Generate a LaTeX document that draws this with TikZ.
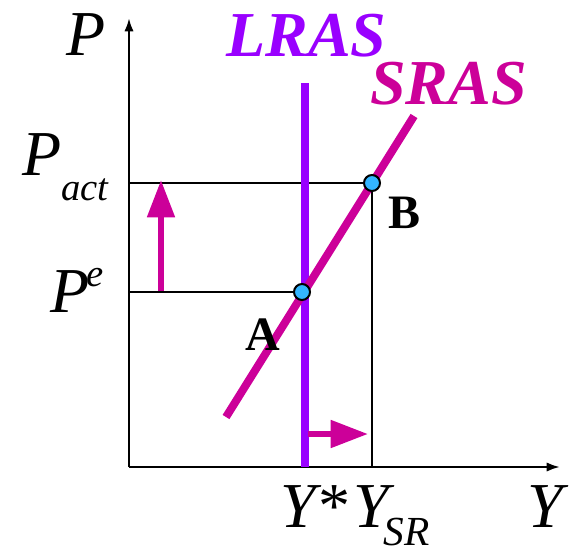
\documentclass[tikz,border=0pt]{standalone}
\usepackage{fontspec}
\setmainfont{Liberation Serif}
\usetikzlibrary{arrows.meta}
\definecolor{lrascol}{RGB}{153,0,255}
\definecolor{srascol}{RGB}{204,0,153}
\definecolor{dotcol}{RGB}{51,181,255}
\begin{document}
\begin{tikzpicture}[x=0.75pt,y=-0.75pt,
  lbl/.style={inner sep=0pt, anchor=base west, font=\fontsize{48}{48}\selectfont\itshape},
  curvelbl/.style={inner sep=0pt, anchor=base west, font=\fontsize{48}{48}\selectfont\bfseries\itshape},
  ptlbl/.style={inner sep=0pt, anchor=base west, font=\fontsize{36}{36}\selectfont\bfseries},
  dot/.style={circle, draw=black, line width=1.5pt, fill=dotcol, minimum size=12pt, inner sep=0pt},
  guide/.style={line width=1.5pt},
  axis/.style={line width=1.8pt, -{Latex[length=10pt,width=7pt]}},
  lrasline/.style={lrascol, line width=6pt},
  srasline/.style={srascol, line width=6pt},
  shiftarrow/.style={srascol, line width=4.5pt, -{Triangle[length=28pt,width=20pt]}}]
\useasboundingbox (0,0) rectangle (570,550);
% coordinates
\coordinate (O) at (129,467);
\coordinate (ytop) at (129,18);
\coordinate (xend) at (560,467);
\coordinate (pact) at (129,183);
\coordinate (pe) at (129,292);
\coordinate (ysr) at (372,467);
\coordinate (lrasB) at (305,467);
\coordinate (lrasT) at (305,83);
\coordinate (srasB) at (226,417);
\coordinate (srasT) at (414,116);
\coordinate (upS) at (161,291);
\coordinate (upT) at (161,180);
\coordinate (rS) at (308,434);
\coordinate (rT) at (368,434);
\coordinate (Apos) at (302,292);
\coordinate (Bpos) at (372,183);
% axes
\draw[axis] (O) -- (ytop);
\draw[axis] (O) -- (xend);
% guides
\draw[guide] (pact) -- (Bpos) -- (ysr);
\draw[guide] (pe) -- (Apos);
% curves
\draw[lrasline] (lrasB) -- (lrasT);
\draw[srasline] (srasB) -- (srasT);
% shift arrows
\draw[shiftarrow] (upS) -- (upT);
\draw[shiftarrow] (rS) -- (rT);
% points
\node[dot] (A) at (Apos) {};
\node[dot] (B) at (Bpos) {};
% labels
\node[lbl] (Plab) at (66,55) {P};
\node[lbl] (Pactlab) at (22,175) {P\raisebox{-19pt}{\fontsize{29}{29}\selectfont act}};
\node[lbl] (Pelab) at (50,312) {P\kern-2pt\raisebox{19pt}{\fontsize{29}{29}\selectfont e}};
\node[lbl] (Ystar) at (280,527) {Y*};
\node[lbl] (Ysrlab) at (353,527) {Y\kern-4pt\raisebox{-14pt}{\fontsize{31}{31}\selectfont SR}};
\node[lbl] (Ylab) at (527,527) {Y};
\node[curvelbl, text=lrascol] (LRAS) at (226,56) {LRAS};
\node[curvelbl, text=srascol] (SRAS) at (370,104) {SRAS};
\node[ptlbl] (Alab) at (245,350) {A};
\node[ptlbl] (Blab) at (388,228) {B};
\end{tikzpicture}
\end{document}
